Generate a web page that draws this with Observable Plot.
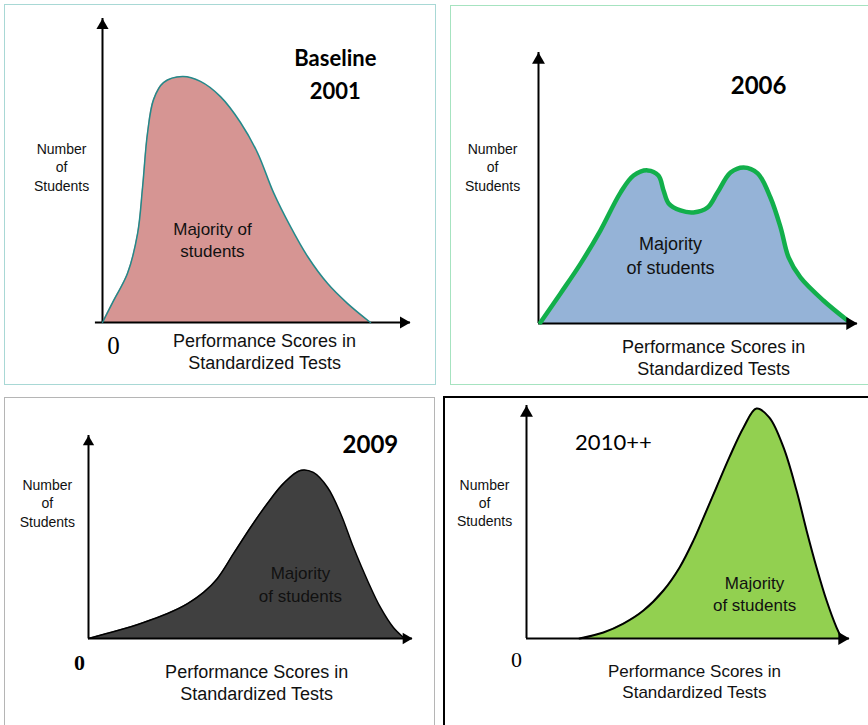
<!DOCTYPE html>
<html><head><meta charset="utf-8">
<script src="https://cdn.jsdelivr.net/npm/d3@7"></script>
<script src="https://cdn.jsdelivr.net/npm/@observablehq/plot@0.6"></script>
<style>
html,body{margin:0;padding:0;background:#fff;}
#wrap{position:relative;width:868px;height:725px;overflow:hidden;background:#fff;}
.frame{position:absolute;box-sizing:border-box;}
.plotbox{position:absolute;}
</style></head><body><div id="wrap"></div>
<script>
// ---- Data (score 0..100 along x axis, number of students 0..100 along y axis) ----
const titles = ["Baseline\n2001", "2006", "2009", "2010++"];
const yLabel = "Number\nof\nStudents";
const xLabel = "Performance Scores in\nStandardized Tests";
const zeroLabel = "0";

const scores2001 = [0, 3.6, 8.1, 11.4, 13.0, 14.6, 16.6, 19.8, 26.0, 31.8, 38.3, 44.8, 50.3, 55.5, 61.0, 66.6, 73.1, 79.5, 87.0];
const counts2001 = [0, 7.2, 16.1, 29.3, 44.4, 62.2, 73.4, 78.9, 80.9, 79.3, 74.3, 65.8, 55.9, 42.8, 31.6, 21.7, 12.8, 6.3, 0];

const scores2006 = [0.6, 6.9, 13.2, 19.4, 25.7, 29.8, 34.2, 37.6, 39.2, 40.8, 44.5, 48.6, 53.0, 56.1, 60.2, 64.3, 68.7, 72.7, 75.9, 78.4, 82.1, 89.3, 96.9];
const counts2006 = [0.4, 11.1, 22.1, 34.3, 48.3, 54.6, 56.5, 54.6, 49.1, 44.3, 41.7, 41.0, 42.8, 48.3, 55.7, 57.6, 55.4, 46.5, 35.4, 24.4, 17.0, 8.5, 1.1];

const scores2009 = [0, 9.0, 17.0, 24.4, 30.6, 35.5, 39.8, 44.8, 50.0, 55.2, 60.2, 65.4, 69.4, 73.8, 77.8, 81.8, 86.1, 90.1, 94.1, 97.2];
const counts2009 = [0, 3.9, 7.9, 12.3, 17.2, 22.7, 29.6, 41.9, 54.7, 66.5, 76.4, 82.8, 81.8, 74.4, 61.6, 44.8, 28.6, 15.3, 5.4, 0.5];

const scores2010 = [16.4, 23.8, 30.0, 36.2, 42.4, 47.4, 51.7, 54.8, 58.8, 62.8, 67.2, 71.2, 75.2, 79.6, 83.6, 86.7, 89.8, 92.9, 96.0, 97.5];
const counts2010 = [0, 2.6, 6.4, 12.0, 20.6, 30.5, 42.1, 51.9, 64.8, 77.7, 90.6, 98.7, 94.8, 81.9, 63.5, 46.4, 30.5, 16.3, 4.7, 0.4];

// ---- Panel layout & styles ----
const panels = [
  {title: titles[0], score: scores2001, count: counts2001,
   left: 4, top: 4, w: 432, h: 381, border: "1.5px solid #a8d8d5",
   ox: 102, oy: 322, tipX: 410, tipY: 18, xStart: -2.3,
   fill: "#d69593", stroke: "#23898a", sw: 1.5, axisW: 2, arrowR: 4.5,
   titlePos: [75.6, 82.4], titleSize: 22, titleWeight: "bold", titleLH: 1.5,
   yLabPos: [-13.3, 51.3], yLabSize: 14,
   majPos: [35.7, 27.5], majText: "Majority of\nstudents", majSize: 17,
   xLabPos: [52.6, -9.5], xLabSize: 18,
   zero: {pos: [3.6, -7.6], size: 25, weight: "normal"}},
  {title: titles[1], score: scores2006, count: counts2006,
   left: 450, top: 5, w: 425, h: 380, border: "1.5px solid #a6e3c0",
   ox: 538, oy: 323, tipX: 857, tipY: 52, xStart: 0,
   fill: "#95b3d7", stroke: "#12af4b", sw: 4.5, axisW: 2, arrowR: 4.8,
   titlePos: [69.0, 87.5], titleSize: 24, titleWeight: "bold", titleLH: 1,
   yLabPos: [-14.4, 57.9], yLabSize: 14,
   majPos: [41.4, 25.6], majText: "Majority\nof students", majSize: 18,
   xLabPos: [54.9, -12.5], xLabSize: 18,
   zero: null},
  {title: titles[2], score: scores2009, count: counts2009,
   left: 4, top: 397, w: 431, h: 340, border: "1.5px solid #b5b5b5",
   ox: 88, oy: 638, tipX: 412, tipY: 435, xStart: 0,
   fill: "#404040", stroke: "#000", sw: 1.5, axisW: 2, arrowR: 4.2,
   titlePos: [87.0, 95.1], titleSize: 24, titleWeight: "bold", titleLH: 1,
   yLabPos: [-12.7, 67.0], yLabSize: 14,
   majPos: [65.4, 27.1], majText: "Majority\nof students", majSize: 17,
   xLabPos: [51.9, -21.2], xLabSize: 18,
   zero: {pos: [-2.8, -11.8], size: 22, weight: "bold"}},
  {title: titles[3], score: scores2010, count: counts2010,
   left: 443, top: 396, w: 430, h: 340, border: "2px solid #000",
   ox: 526, oy: 638, tipX: 849, tipY: 405, xStart: 0,
   fill: "#92d050", stroke: "#000", sw: 2, axisW: 2, arrowR: 4.8,
   titlePos: [26.9, 84.1], titleSize: 22, titleWeight: "normal", titleLH: 1,
   yLabPos: [-13.0, 58.6], yLabSize: 14,
   majPos: [70.6, 19.7], majText: "Majority\nof students", majSize: 17,
   xLabPos: [52.0, -18.2], xLabSize: 17,
   zero: {pos: [-3.1, -9.4], size: 22, weight: "normal"}}
];

const wrap = document.getElementById("wrap");
const sans = "'Liberation Sans', Arial, sans-serif";
const titleFont = "Lato, 'Open Sans', sans-serif";
const serif = "'Liberation Serif', 'Times New Roman', serif";

for (const p of panels) {
  const frame = document.createElement("div");
  frame.className = "frame";
  Object.assign(frame.style, {left: p.left + "px", top: p.top + "px", width: p.w + "px", height: p.h + "px", border: p.border});
  wrap.appendChild(frame);

  const data = p.score.map((s, i) => ({score: s, count: p.count[i]}));
  const off = 1.555 * p.arrowR;
  const marks = [
    Plot.areaY(data, {x: "score", y: "count", fill: p.fill, curve: "catmull-rom"}),
    Plot.ruleX([0], {y1: 0, y2: 100, stroke: "black", strokeWidth: p.axisW}),
    Plot.ruleY([0], {x1: p.xStart, x2: 100, stroke: "black", strokeWidth: p.axisW}),
    Plot.line(data, {x: "score", y: "count", stroke: p.stroke, strokeWidth: p.sw, curve: "catmull-rom", strokeLinecap: "round", strokeLinejoin: "round"}),
    Plot.dot([{x: 0, y: 100}], {x: "x", y: "y", symbol: "triangle", r: p.arrowR, fill: "black", stroke: "none", dy: off}),
    Plot.dot([{x: 100, y: 0}], {x: "x", y: "y", symbol: "triangle", r: p.arrowR, fill: "black", stroke: "none", rotate: 90, dx: -off}),
    Plot.text([p.title], {x: p.titlePos[0], y: p.titlePos[1], text: d => d, fontSize: p.titleSize, fontWeight: p.titleWeight, fontFamily: titleFont, lineHeight: p.titleLH, textAnchor: "middle", fill: "black", letterSpacing: "0.5px"}),
    Plot.text([yLabel], {x: p.yLabPos[0], y: p.yLabPos[1], text: d => d, fontSize: p.yLabSize, fontFamily: sans, lineHeight: 1.3, textAnchor: "middle", fill: "#111"}),
    Plot.text([p.majText], {x: p.majPos[0], y: p.majPos[1], text: d => d, fontSize: p.majSize, fontFamily: sans, lineHeight: 1.32, textAnchor: "middle", fill: "#111"}),
    Plot.text([xLabel], {x: p.xLabPos[0], y: p.xLabPos[1], text: d => d, fontSize: p.xLabSize, fontFamily: sans, lineHeight: 1.22, textAnchor: "middle", fill: "#111"})
  ];
  if (p.zero) {
    marks.push(Plot.text([zeroLabel], {x: p.zero.pos[0], y: p.zero.pos[1], text: d => d, fontSize: p.zero.size, fontWeight: p.zero.weight, fontFamily: serif, textAnchor: "middle", fill: "black"}));
  }
  const svg = Plot.plot({
    width: p.w, height: p.h, margin: 0,
    style: {background: "none", overflow: "visible", fontFamily: sans},
    x: {domain: [0, 100], range: [p.ox - p.left, p.tipX - p.left], axis: null},
    y: {domain: [0, 100], range: [p.oy - p.top, p.tipY - p.top], axis: null},
    marks
  });
  const box = document.createElement("div");
  box.className = "plotbox";
  Object.assign(box.style, {left: p.left + "px", top: p.top + "px", width: p.w + "px", height: p.h + "px"});
  box.appendChild(svg);
  wrap.appendChild(box);
}
</script>
</body></html>
